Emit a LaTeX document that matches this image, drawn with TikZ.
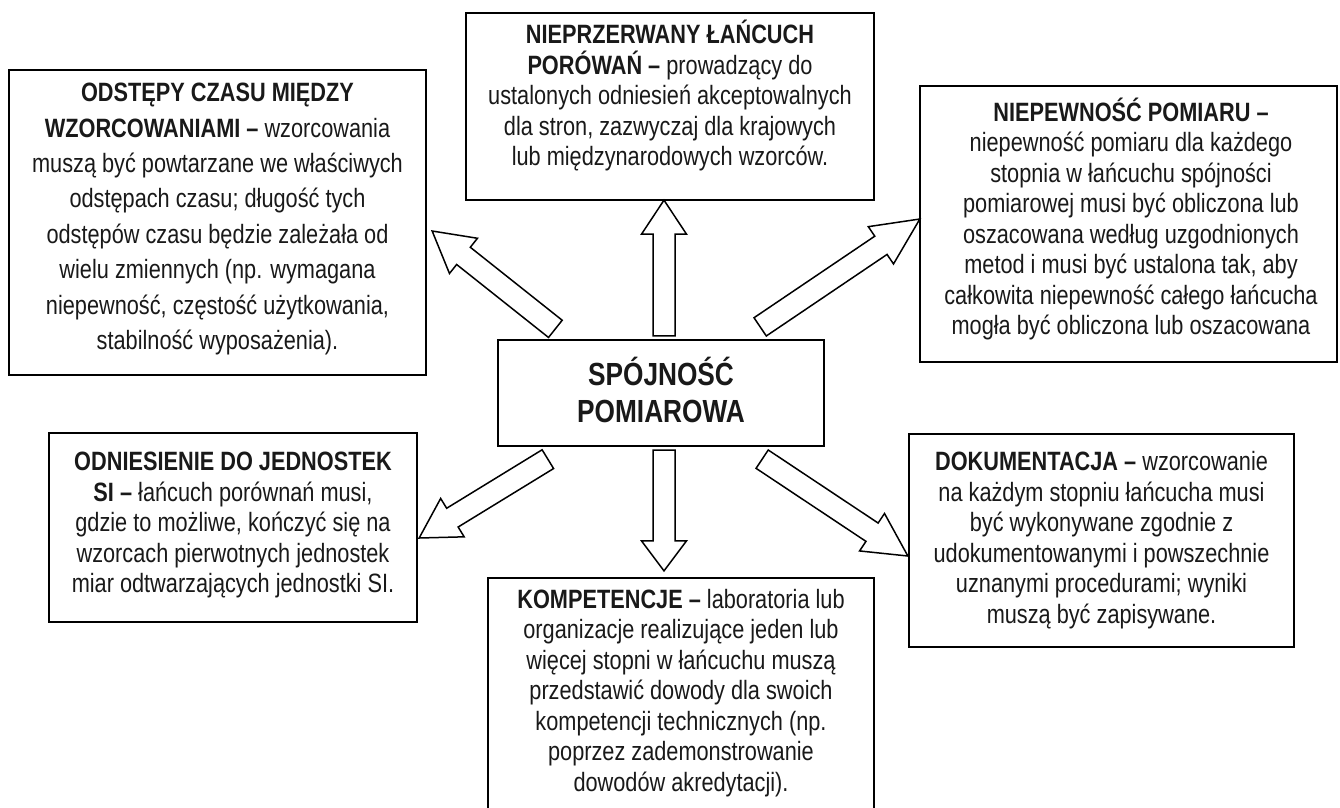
\documentclass[tikz,border=0pt]{standalone}
\usepackage{fontspec}
\setmainfont{Liberation Sans}[FakeStretch=0.82]
\usetikzlibrary{calc}

\tikzset{
  box/.style={draw, line width=2.3pt, rectangle, inner sep=0pt},
  txt/.style={align=center, inner sep=0pt, text=black!90,
    font=\fontsize{26.5}{30.5}\selectfont},
  blockarrow/.style={draw, line width=1.5pt, fill=white, line join=miter},
}

% hollow block arrow: #1 tail centre, #2 tip, #3 head length
\newcommand\blockarrow[3]{%
  \coordinate (ba-h) at ($(#2)!#3!(#1)$);
  \draw[blockarrow]
    ($(#1)!11pt!90:(#2)$) -- ($(ba-h)!11pt!-90:(#1)$) -- ($(ba-h)!22.5pt!-90:(#1)$)
    -- (#2) -- ($(ba-h)!22.5pt!90:(#1)$) -- ($(ba-h)!11pt!90:(#1)$)
    -- ($(#1)!11pt!-90:(#2)$) -- cycle;
}

\begin{document}
\begin{tikzpicture}[x=1pt,y=-1pt]
\useasboundingbox (0,0) rectangle (1340,807);
\clip (0,0) rectangle (1340,807);

% frames
\node[box, minimum width=417pt, minimum height=305pt] (tl) at (217.5,222.5) {};
\node[box, minimum width=408pt, minimum height=187pt] (tc) at (670,106.5) {};
\node[box, minimum width=417pt, minimum height=276pt] (tr) at (1128.5,224) {};
\node[box, minimum width=326pt, minimum height=106pt] (hub) at (661,393) {};
\node[box, minimum width=368pt, minimum height=189pt] (lm) at (233,527.5) {};
\node[box, minimum width=385pt, minimum height=213pt] (dok) at (1101.5,540.5) {};
\node[box, minimum width=386pt, minimum height=240pt] (bc) at (681,698) {};

% texts
\node[txt, font=\fontsize{26.5}{35.4}\selectfont] (tl-t) at (217.5,219)
  {\textbf{ODSTĘPY CZASU MIĘDZY}\\
   \textbf{WZORCOWANIAMI –} wzorcowania\\
   muszą być powtarzane we właściwych\\
   odstępach czasu; długość tych\\
   odstępów czasu będzie zależała od\\
   wielu zmiennych (np. wymagana\\
   niepewność, częstość użytkowania,\\
   stabilność wyposażenia).};

\node[txt] (tc-t) at (670,96)
  {\textbf{NIEPRZERWANY ŁAŃCUCH}\\
   \textbf{PORÓWAŃ –} prowadzący do\\
   ustalonych odniesień akceptowalnych\\
   dla stron, zazwyczaj dla krajowych\\
   lub międzynarodowych wzorców.};

\node[txt] (tr-t) at (1131,219)
  {\textbf{NIEPEWNOŚĆ POMIARU –}\\
   niepewność pomiaru dla każdego\\
   stopnia w łańcuchu spójności\\
   pomiarowej musi być obliczona lub\\
   oszacowana według uzgodnionych\\
   metod i musi być ustalona tak, aby\\
   całkowita niepewność całego łańcucha\\
   mogła być obliczona lub oszacowana};

\node[txt, font=\fontsize{32}{37}\selectfont\bfseries] (hub-t) at (661,390)
  {SPÓJNOŚĆ\\POMIAROWA};

\node[txt] (lm-t) at (233,525)
  {\textbf{ODNIESIENIE DO JEDNOSTEK}\\
   \textbf{SI –} łańcuch porównań musi,\\
   gdzie to możliwe, kończyć się na\\
   wzorcach pierwotnych jednostek\\
   miar odtwarzających jednostki SI.};

\node[txt] (dok-t) at (1101.5,540)
  {\textbf{DOKUMENTACJA –} wzorcowanie\\
   na każdym stopniu łańcucha musi\\
   być wykonywane zgodnie z\\
   udokumentowanymi i powszechnie\\
   uznanymi procedurami; wyniki\\
   muszą być zapisywane.};

\node[txt] (bc-t) at (681,693)
  {\textbf{KOMPETENCJE –} laboratoria lub\\
   organizacje realizujące jeden lub\\
   więcej stopni w łańcuchu muszą\\
   przedstawić dowody dla swoich\\
   kompetencji technicznych (np.\\
   poprzez zademonstrowanie\\
   dowodów akredytacji).};

% arrow ends
\coordinate (a1s) at ($(hub.north)+(3,-3)$);
\coordinate (a1e) at ($(tc.south)+(-6,-1)$);
\coordinate (a2s) at ($(hub.north west)+(58.5,-10)$);
\coordinate (a2e) at ($(tl.east)+(5,8.5)$);
\coordinate (a3s) at ($(hub.north east)+(-65,-12)$);
\coordinate (a3e) at ($(tr.west)+(1,-5)$);
\coordinate (a4s) at ($(hub.south west)+(51,12)$);
\coordinate (a4e) at ($(lm.east)+(1,10.5)$);
\coordinate (a5s) at ($(hub.south)+(3,3)$);
\coordinate (a5e) at ($(bc.north)+(-17,-6)$);
\coordinate (a6s) at ($(hub.south east)+(-63,12)$);
\coordinate (a6e) at ($(dok.west)+(0,15.5)$);

% arrows
\blockarrow{a1s}{a1e}{34pt}
\blockarrow{a2s}{a2e}{40pt}
\blockarrow{a3s}{a3e}{47pt}
\blockarrow{a4s}{a4e}{39pt}
\blockarrow{a5s}{a5e}{30pt}
\blockarrow{a6s}{a6e}{43pt}
\end{tikzpicture}
\end{document}
